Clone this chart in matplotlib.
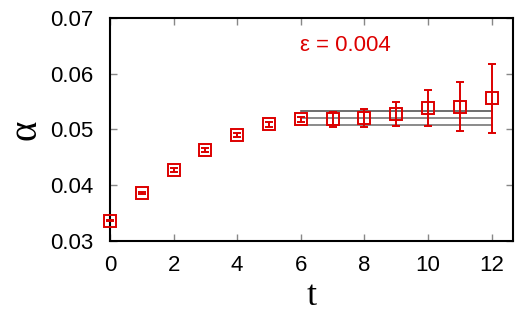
import matplotlib.pyplot as plt
import numpy as np

plt.rcParams['font.family'] = ['Liberation Sans', 'DejaVu Sans']
plt.rcParams['font.size'] = 16

red = '#dd0000'

t = [0, 1, 2, 3, 4, 5, 6, 7, 8, 9, 10, 11, 12]
alpha = [0.03365, 0.0386, 0.04275, 0.0463, 0.0490, 0.0509, 0.0518,
         0.0518, 0.05206, 0.05278, 0.0539, 0.0541, 0.0556]
alpha_err = [0.0001, 0.0002, 0.0003, 0.0003, 0.0004, 0.0004, 0.0005,
             0.0013, 0.0017, 0.0022, 0.0032, 0.0044, 0.0062]

fit_t = [6, 12]
fit_mid = 0.05212
fit_err = 0.00125

fig = plt.figure(figsize=(5.25, 3.15), dpi=100)
ax = fig.add_axes([0.2095, 0.235, 0.768, 0.708])

for val, col in [(fit_mid + fit_err, '#555555'), (fit_mid, '#777777'),
                 (fit_mid - fit_err, '#777777')]:
    ax.plot(fit_t, [val, val], color=col, linewidth=1.2, zorder=1)

ax.errorbar(t, alpha, yerr=alpha_err, fmt='s', markersize=8,
            markerfacecolor='none', markeredgecolor=red, markeredgewidth=1.4,
            ecolor=red, elinewidth=1.4, capsize=3, capthick=1.4,
            clip_on=False, zorder=3)

ax.text(5.97, 0.0650, 'ε = 0.004', color=red, fontsize=16, va='center')

ax.set_xlim(0, 12.68)
ax.set_ylim(0.03, 0.07)
ax.set_xticks([0, 2, 4, 6, 8, 10, 12])
ax.set_yticks([0.03, 0.04, 0.05, 0.06, 0.07])
ax.set_yticklabels(['0.03', '0.04', '0.05', '0.06', '0.07'])

ax.tick_params(direction='in', length=5, width=1, color='#888888',
               top=True, right=True, labelsize=16)
ax.tick_params(axis='y', pad=12)
ax.tick_params(axis='x', pad=10)
for s in ax.spines.values():
    s.set_linewidth(1.5)

ax.set_xlabel('t', family='Liberation Serif', fontsize=26, labelpad=3)
ax.set_ylabel('α', family='Liberation Serif', fontsize=28, labelpad=4)

plt.savefig('out.png', dpi=100)
